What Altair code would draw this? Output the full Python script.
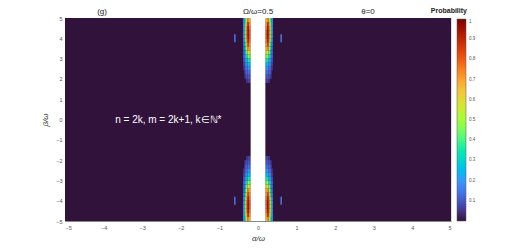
import altair as alt
import pandas as pd

# --- data ---
# one quadrant (alpha<0, beta>0) of the probability field next to the excluded band
col_lo = [-0.39, -0.35, -0.31, -0.27, -0.23]
col_hi = [-0.35, -0.31, -0.27, -0.23, -0.19]
row_lo = [4.8, 4.6, 4.4, 4.2, 4.0, 3.8, 3.6, 3.4, 3.2, 3.0, 2.8, 2.6, 2.4, 2.2, 2.0, 1.8]
row_hi = [5.0, 4.8, 4.6, 4.4, 4.2, 4.0, 3.8, 3.6, 3.4, 3.2, 3.0, 2.8, 2.6, 2.4, 2.2, 2.0]
quad = [
    [0.15, 0.35, 0.60, 0.75, 0.60],
    [0.15, 0.40, 0.70, 0.88, 0.70],
    [0.15, 0.42, 0.75, 0.93, 0.75],
    [0.15, 0.42, 0.75, 0.95, 0.78],
    [0.15, 0.42, 0.75, 0.95, 0.78],
    [0.13, 0.40, 0.72, 0.92, 0.75],
    [0.12, 0.35, 0.65, 0.85, 0.70],
    [0.10, 0.30, 0.55, 0.75, 0.65],
    [0.10, 0.25, 0.45, 0.60, 0.55],
    [0.10, 0.20, 0.35, 0.45, 0.45],
    [0.08, 0.16, 0.25, 0.35, 0.36],
    [0.06, 0.13, 0.18, 0.25, 0.27],
    [0.04, 0.11, 0.14, 0.18, 0.20],
    [0.00, 0.09, 0.12, 0.13, 0.14],
    [0.00, 0.06, 0.09, 0.10, 0.10],
    [0.00, 0.00, 0.05, 0.07, 0.07],
]
# small isolated features
dash_x = [-0.62, 0.58]
dash_x2 = [-0.58, 0.62]
dash_y = [3.8, -4.2]
dash_y2 = [4.2, -3.8]
dash_val = 0.14
band = [-0.19, 0.19]
ticks = [-5, -4, -3, -2, -1, 0, 1, 2, 3, 4, 5]
cbar_ticks = [0.1, 0.2, 0.3, 0.4, 0.5, 0.6, 0.7, 0.8, 0.9, 1]
turbo = ["#30123b", "#4145ab", "#4675ed", "#39a2fc", "#1bcfd4", "#24eca6", "#61fc6c",
         "#a4fc3b", "#d1e834", "#f3c63a", "#fe9b2d", "#f36315", "#d93806", "#b11901", "#7a0402"]

rows = [dict(x=-5, x2=5, y=-5, y2=5, p=0.0)]
for i in range(len(row_lo)):
    for j in range(len(col_lo)):
        v = quad[i][j]
        for sx in (1, -1):
            for sy in (1, -1):
                xa, xb = sorted([sx * col_lo[j], sx * col_hi[j]])
                ya, yb = sorted([sy * row_lo[i], sy * row_hi[i]])
                rows.append(dict(x=xa, x2=xb, y=ya, y2=yb, p=v))
for a, b in zip(dash_x, dash_x2):
    for c, d in zip(dash_y, dash_y2):
        rows.append(dict(x=a, x2=b, y=c, y2=d, p=dash_val))
df = pd.DataFrame(rows)

W, H = 386, 203
xs = alt.Scale(domain=[-5, 5], nice=False, zero=False)
ys = alt.Scale(domain=[-5, 5], nice=False, zero=False)

axis_common = dict(values=ticks, tickCount=20, format="~g", titleFontStyle="italic",
                   titleFontWeight="normal", titleFontSize=8, titleColor="#333",
                   labelFontSize=5.5, labelColor="#555", tickSize=0, domainColor="#888",
                   grid=False, labelOverlap=False, labelBound=False)

heat = alt.Chart(df).mark_rect(strokeWidth=0).encode(
    x=alt.X("x:Q", scale=xs, axis=alt.Axis(title="α/ω", labelPadding=4, titlePadding=4,
                                           **axis_common)),
    x2="x2:Q",
    y=alt.Y("y:Q", scale=ys, axis=alt.Axis(title="β/ω", labelPadding=3, titlePadding=6,
                                           **axis_common)),
    y2="y2:Q",
    color=alt.Color("p:Q", scale=alt.Scale(range=turbo, domain=[0, 1]),
                    legend=alt.Legend(title=None, orient="none", legendX=392, legendY=1,
                                      gradientLength=202, gradientThickness=9,
                                      values=cbar_ticks, tickCount=20, format="~g",
                                      labelFontSize=4.5, labelColor="#555",
                                      gradientStrokeColor="#555", gradientStrokeWidth=0.5,
                                      labelOffset=3, labelOverlap=False)),
)

band_df = pd.DataFrame(dict(bx=[band[0]], bx2=[band[1]], by=[-5], by2=[5]))
white = alt.Chart(band_df).mark_rect(color="white").encode(
    x=alt.X("bx:Q", scale=xs), x2="bx2:Q", y=alt.Y("by:Q", scale=ys), y2="by2:Q")

ann = pd.DataFrame(dict(ax=[-3.7], ay=[0.0], t=["n = 2k, m = 2k+1, k∈ℕ*"]))
annot = alt.Chart(ann).mark_text(align="left", baseline="middle", color="white",
                                 fontSize=10, font="Liberation Sans").encode(
    x=alt.X("ax:Q", scale=xs), y=alt.Y("ay:Q", scale=ys), text="t:N")

heads = pd.DataFrame(dict(hx=[-4.04, 0.0, 2.85], t=["(g)", "Ω/ω=0.5", "θ=0"]))
head = alt.Chart(heads).mark_text(baseline="alphabetic", color="#222", fontSize=8,
                                  font="Liberation Sans").encode(
    x=alt.X("hx:Q", scale=xs), y=alt.value(-4), text="t:N")

ptitle = alt.Chart(pd.DataFrame(dict(t=["Probability"]))).mark_text(
    align="right", baseline="alphabetic", fontSize=7, fontWeight="bold", color="#222",
    font="Liberation Sans").encode(x=alt.value(402), y=alt.value(-5), text="t:N")

chart = alt.layer(heat, white, annot, head, ptitle).properties(
    width=W, height=H,
    autosize=alt.AutoSizeParams(type="none"),
    padding={"left": 57, "top": 10, "right": 60, "bottom": 28},
).configure_view(stroke="#888", strokeWidth=1).configure(background="white")

chart.save("out.html", embed_options={"renderer": "svg", "actions": False})
